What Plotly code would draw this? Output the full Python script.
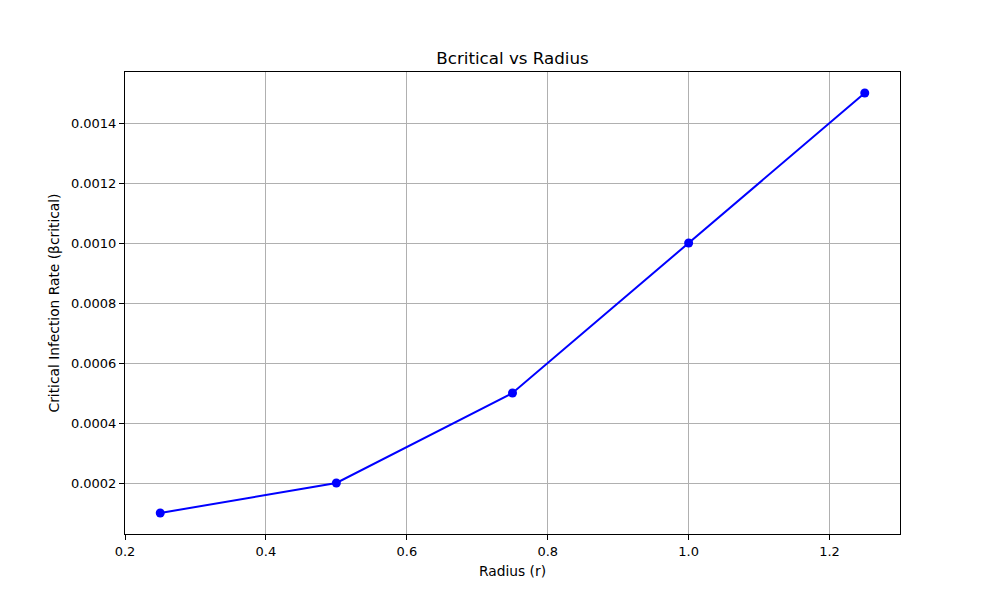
import plotly.graph_objects as go

# Datos del gráfico
radius = [0.25, 0.5, 0.75, 1.0, 1.25]
beta_critical = [0.0001, 0.0002, 0.0005, 0.001, 0.0015]

x_ticks = [0.2, 0.4, 0.6, 0.8, 1.0, 1.2]
y_ticks = [0.0002, 0.0004, 0.0006, 0.0008, 0.0010, 0.0012, 0.0014]

fig = go.Figure()

fig.add_trace(go.Scatter(
    x=radius, y=beta_critical, mode='lines+markers',
    line=dict(color='blue', width=2),
    marker=dict(color='blue', size=9),
    showlegend=False,
))

axis_common = dict(
    showline=True, linecolor='black', linewidth=1, mirror=True,
    ticks='outside', ticklen=5, tickcolor='black',
    showgrid=True, gridcolor='#b0b0b0', gridwidth=1,
    zeroline=False,
    tickfont=dict(size=13, color='black'),
)

fig.update_layout(
    width=1000, height=600,
    plot_bgcolor='white', paper_bgcolor='white',
    font=dict(family='DejaVu Sans', size=13, color='black'),
    margin=dict(l=117, r=108, t=64, b=74),
    title=dict(text='Bcritical vs Radius', xref='paper', x=0.5, xanchor='center',
               y=0.9167, yanchor='middle', font=dict(size=16.7)),
    xaxis=dict(range=[0.2, 1.3], tickvals=x_ticks, tickformat='.1f',
               title=dict(text='Radius (r)', standoff=8, font=dict(size=13.8)),
               **axis_common),
    yaxis=dict(range=[0.00003, 0.00157], tickvals=y_ticks, tickformat='.4f',
               title=dict(text='Critical Infection Rate (βcritical)', standoff=8,
                          font=dict(size=13.8)),
               **axis_common),
)

fig.write_html("out.html")
